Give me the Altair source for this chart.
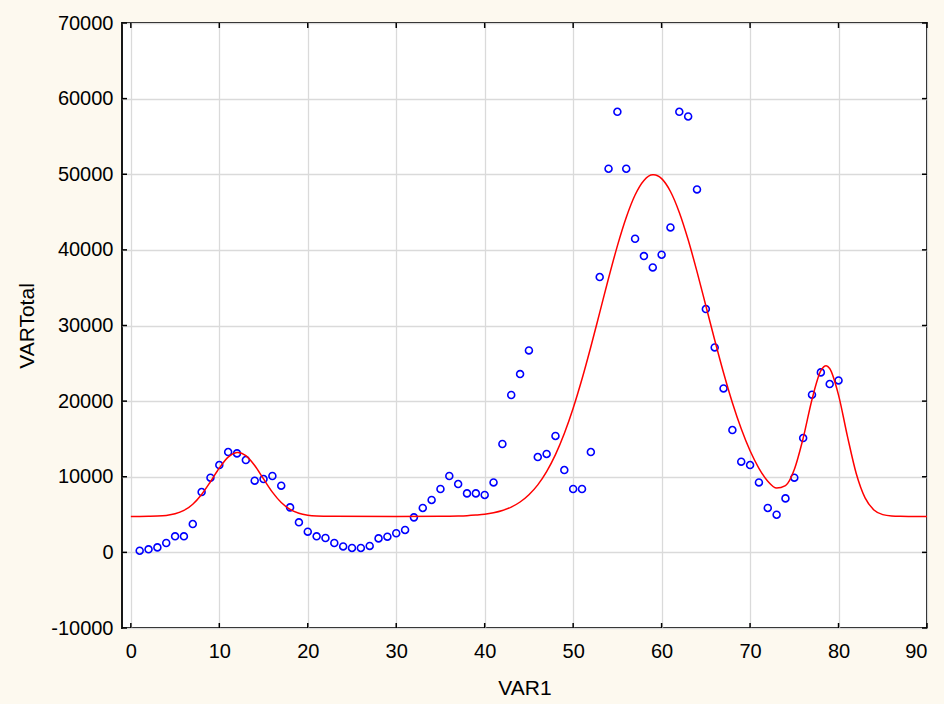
import altair as alt
import pandas as pd

# Observed totals for VAR1 = 1..80
var1 = list(range(1, 81))
var_total = [
    220, 400, 660, 1240, 2120, 2120, 3750, 7980, 9870, 11550,
    13270, 13090, 12210, 9480, 9700, 10100, 8820, 5950, 3970, 2740,
    2120, 1900, 1240, 790, 580, 580, 850, 1850, 2080, 2530,
    2960, 4630, 5870, 6930, 8380, 10100, 9040, 7800, 7800, 7590,
    9250, 14330, 20810, 23580, 26700, 12610, 13010, 15390, 10890, 8380,
    8380, 13270, 36410, 50730, 58260, 50730, 41470, 39180, 37680, 39360,
    42970, 58260, 57640, 47990, 32180, 27100, 21680, 16180, 11990, 11550,
    9250, 5870, 4980, 7140, 9880, 15120, 20850, 23800, 22260, 22740,
]

# Fitted curve, sampled along VAR1
fit_x = [
    0, 1, 2, 3, 4, 5, 6, 7, 8, 9, 10, 11, 12, 12.1, 13, 14, 15, 16, 17, 18,
    19, 20, 21, 22, 23, 30, 35, 36, 37, 38, 39, 40, 41, 42, 43, 44, 45, 46,
    47, 48, 49, 50, 51, 52, 53, 54, 55, 56, 57, 58, 59, 59.1, 60, 61, 62, 63,
    64, 65, 66, 67, 68, 69, 70, 71, 72, 73, 74, 75, 76, 77, 78, 78.6, 79, 80,
    81, 82, 83, 84, 85, 86, 87, 88, 90,
]
fit_y = [
    4760, 4760, 4770, 4800, 4890, 5100, 5550, 6370, 7660, 9340, 11150, 12590,
    13210, 13220, 12790, 11480, 9710, 7970, 6590, 5680, 5170, 4920, 4810, 4780,
    4765, 4760, 4770, 4790, 4810, 4850, 4930, 5040, 5240, 5540, 5990, 6660,
    7620, 8930, 10680, 12920, 15710, 19060, 22920, 27190, 31700, 36240, 40530,
    44280, 47250, 49180, 49930, 49930, 49420, 47720, 44950, 41330, 37120, 32610,
    28080, 23750, 19790, 16340, 13430, 11120, 9420, 8510, 8830, 10960, 15100,
    20220, 24020, 24690, 24310, 20800, 15380, 10430, 7200, 5610, 4990, 4810,
    4770, 4760, 4760,
]

x_ticks = [0, 10, 20, 30, 40, 50, 60, 70, 80, 90]
y_ticks = [-10000, 0, 10000, 20000, 30000, 40000, 50000, 60000, 70000]

W, H = 805, 605
TICK = 5

points = pd.DataFrame({"VAR1": var1, "VARTotal": var_total})
fit = pd.DataFrame({"VAR1": fit_x, "VARTotal": fit_y})
xt = pd.DataFrame({"VAR1": x_ticks})
yt = pd.DataFrame({"VARTotal": y_ticks})

x_scale = alt.Scale(domain=[-1, 90], nice=False, zero=False)
y_scale = alt.Scale(domain=[-10000, 70000], nice=False, zero=False)

x_axis = alt.Axis(
    values=x_ticks, title="VAR1", grid=True, ticks=False, tickSize=0,
    domain=False, labelPadding=13, labelExpr="'' + datum.value",
    titleY=60, titleBaseline="middle", titleX=W / 2,
)
y_axis = alt.Axis(
    values=y_ticks, title="VARTotal", grid=True, ticks=False, tickSize=0,
    domain=False, labelPadding=9, labelExpr="'' + datum.value",
    titleX=-95, titleY=H / 2, titleBaseline="middle", titleAlign="center",
    titleAngle=270,
)

X = alt.X("VAR1:Q", scale=x_scale, axis=x_axis)
Y = alt.Y("VARTotal:Q", scale=y_scale, axis=y_axis)

scatter = alt.Chart(points).mark_point(
    filled=False, color="#0000ff", size=48, strokeWidth=1.6, opacity=1
).encode(x=X, y=Y)

curve = alt.Chart(fit).mark_line(
    color="#ff0000", strokeWidth=1.5, interpolate="monotone"
).encode(x=X, y=Y)

# Inward-pointing tick marks on all four sides of the frame
tick_style = dict(color="#000000", strokeWidth=1.5)
bottom_ticks = alt.Chart(xt).mark_rule(**tick_style).encode(
    x=X, y=alt.value(H), y2=alt.value(H - TICK),
)
top_ticks = alt.Chart(xt).mark_rule(**tick_style).encode(
    x=X, y=alt.value(0), y2=alt.value(TICK),
)
left_ticks = alt.Chart(yt).mark_rule(**tick_style).encode(
    y=Y, x=alt.value(0), x2=alt.value(TICK),
)
right_ticks = alt.Chart(yt).mark_rule(**tick_style).encode(
    y=Y, x=alt.value(W), x2=alt.value(W - TICK),
)

chart = alt.layer(
    scatter, curve, bottom_ticks, top_ticks, left_ticks, right_ticks
).properties(
    width=W, height=H,
    autosize=alt.AutoSizeParams(type="none"),
    padding={"left": 122, "top": 23, "right": 17, "bottom": 76},
    background="#fdf9ef",
).configure_view(
    fill="#ffffff", stroke="#000000", strokeWidth=1.8,
).configure_axis(
    gridColor="#dadada", gridWidth=1.3, gridOpacity=1,
    labelFont="Liberation Sans", labelFontSize=20, labelColor="#000000",
    titleFont="Liberation Sans", titleFontSize=21, titleColor="#000000",
    titleFontWeight="normal",
)

chart.save("out.html", embed_options={"renderer": "svg", "actions": False})
